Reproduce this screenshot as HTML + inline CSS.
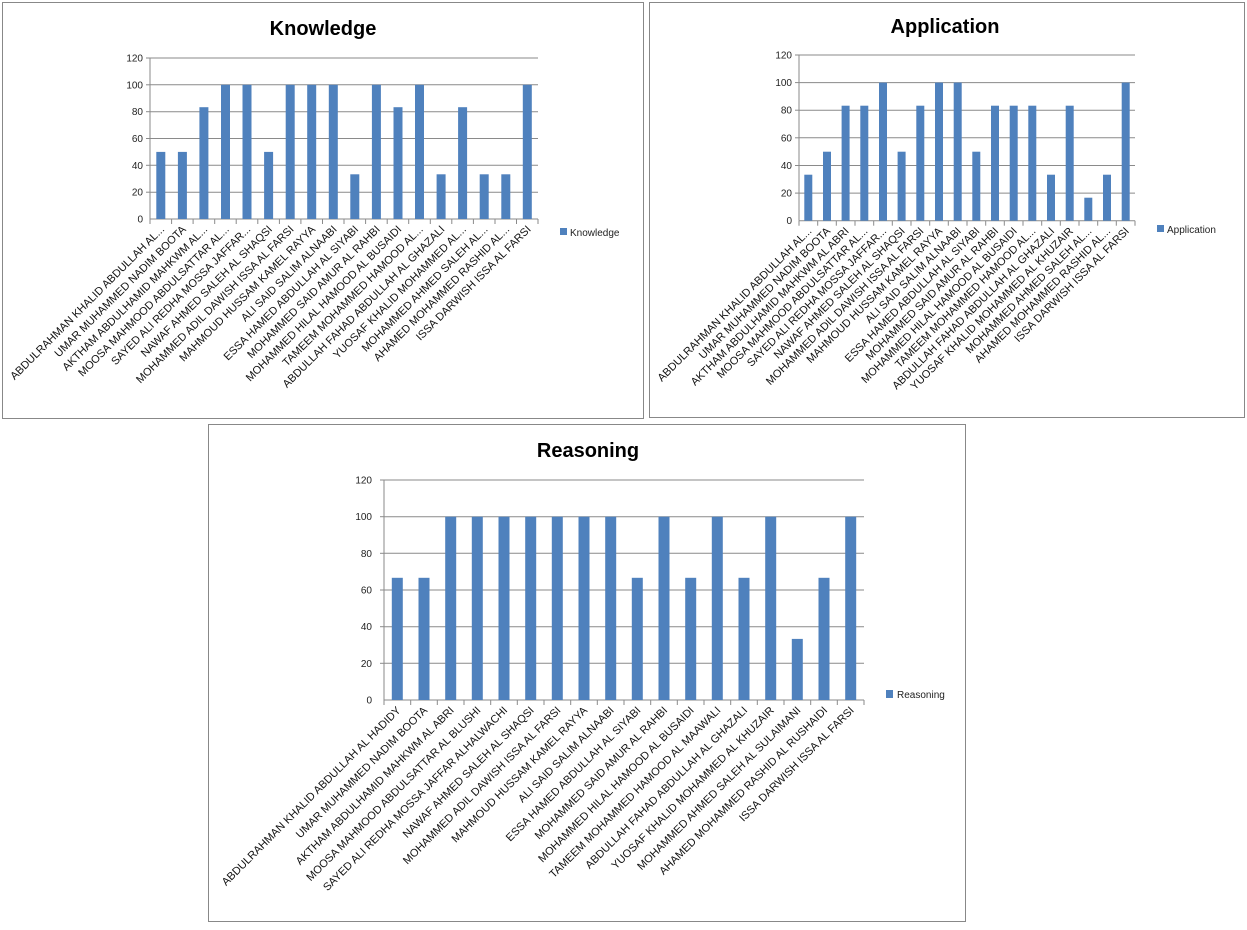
<!DOCTYPE html>
<html><head><meta charset="utf-8"><style>
html,body{margin:0;padding:0;background:#fff;}
svg{display:block;font-family:"Liberation Sans",sans-serif;}
.t{font-size:10px;fill:#222;}
.lb text{font-size:11px;fill:#111;text-anchor:end;}
.yl{font-size:10px;fill:#222;text-anchor:end;}
.ttl{font-size:20px;font-weight:bold;text-anchor:middle;fill:#000;}
.g{stroke:#8a8a8a;stroke-width:1;}
rect.b{fill:#4f81bd;}
</style></head><body>
<svg width="1247" height="930" viewBox="0 0 1247 930">
<rect x="0" y="0" width="1247" height="930" fill="#fff"/>
<rect x="2.5" y="2.5" width="641" height="416" fill="none" stroke="#888"/>
<rect x="649.5" y="2.5" width="595" height="415" fill="none" stroke="#888"/>
<rect x="208.5" y="424.5" width="757" height="497" fill="none" stroke="#888"/>

<text class="ttl" x="323" y="35">Knowledge</text>
<g transform="translate(150,219)">
<g class="g">
<line x1="0" y1="-161" x2="388" y2="-161"/><line x1="0" y1="-134.2" x2="388" y2="-134.2"/><line x1="0" y1="-107.3" x2="388" y2="-107.3"/><line x1="0" y1="-80.5" x2="388" y2="-80.5"/><line x1="0" y1="-53.7" x2="388" y2="-53.7"/><line x1="0" y1="-26.8" x2="388" y2="-26.8"/><line x1="0" y1="0" x2="388" y2="0"/>
<line x1="0" y1="-161" x2="0" y2="0"/>
<line x1="-4" y1="-161" x2="0" y2="-161"/><line x1="-4" y1="-134.2" x2="0" y2="-134.2"/><line x1="-4" y1="-107.3" x2="0" y2="-107.3"/><line x1="-4" y1="-80.5" x2="0" y2="-80.5"/><line x1="-4" y1="-53.7" x2="0" y2="-53.7"/><line x1="-4" y1="-26.8" x2="0" y2="-26.8"/>
<line x1="0" y1="0" x2="0" y2="5"/><line x1="21.6" y1="0" x2="21.6" y2="5"/><line x1="43.1" y1="0" x2="43.1" y2="5"/><line x1="64.7" y1="0" x2="64.7" y2="5"/><line x1="86.2" y1="0" x2="86.2" y2="5"/><line x1="107.8" y1="0" x2="107.8" y2="5"/><line x1="129.4" y1="0" x2="129.4" y2="5"/><line x1="150.9" y1="0" x2="150.9" y2="5"/><line x1="172.5" y1="0" x2="172.5" y2="5"/><line x1="194" y1="0" x2="194" y2="5"/><line x1="215.6" y1="0" x2="215.6" y2="5"/><line x1="237.2" y1="0" x2="237.2" y2="5"/><line x1="258.7" y1="0" x2="258.7" y2="5"/><line x1="280.3" y1="0" x2="280.3" y2="5"/><line x1="301.8" y1="0" x2="301.8" y2="5"/><line x1="323.4" y1="0" x2="323.4" y2="5"/><line x1="345" y1="0" x2="345" y2="5"/><line x1="366.5" y1="0" x2="366.5" y2="5"/><line x1="388" y1="0" x2="388" y2="5"/>
</g>
<text class="yl" x="-7" y="-157.5">120</text><text class="yl" x="-7" y="-130.7">100</text><text class="yl" x="-7" y="-103.8">80</text><text class="yl" x="-7" y="-77">60</text><text class="yl" x="-7" y="-50.2">40</text><text class="yl" x="-7" y="-23.3">20</text><text class="yl" x="-7" y="3.5">0</text>
<rect class="b" x="6.3" y="-67.1" width="9" height="67.1"/>
<rect class="b" x="27.9" y="-67.1" width="9" height="67.1"/>
<rect class="b" x="49.4" y="-111.8" width="9" height="111.8"/>
<rect class="b" x="71" y="-134.2" width="9" height="134.2"/>
<rect class="b" x="92.5" y="-134.2" width="9" height="134.2"/>
<rect class="b" x="114.1" y="-67.1" width="9" height="67.1"/>
<rect class="b" x="135.7" y="-134.2" width="9" height="134.2"/>
<rect class="b" x="157.2" y="-134.2" width="9" height="134.2"/>
<rect class="b" x="178.8" y="-134.2" width="9" height="134.2"/>
<rect class="b" x="200.3" y="-44.7" width="9" height="44.7"/>
<rect class="b" x="221.9" y="-134.2" width="9" height="134.2"/>
<rect class="b" x="243.5" y="-111.8" width="9" height="111.8"/>
<rect class="b" x="265" y="-134.2" width="9" height="134.2"/>
<rect class="b" x="286.6" y="-44.7" width="9" height="44.7"/>
<rect class="b" x="308.1" y="-111.8" width="9" height="111.8"/>
<rect class="b" x="329.7" y="-44.7" width="9" height="44.7"/>
<rect class="b" x="351.3" y="-44.7" width="9" height="44.7"/>
<rect class="b" x="372.8" y="-134.2" width="9" height="134.2"/>
<g class="lb">
<text transform="translate(15,11) rotate(-45)">ABDULRAHMAN KHALID ABDULLAH AL...</text>
<text transform="translate(36.6,11) rotate(-45)">UMAR MUHAMMED  NADIM  BOOTA</text>
<text transform="translate(58.1,11) rotate(-45)">AKTHAM ABDULHAMID MAHKWM AL...</text>
<text transform="translate(79.7,11) rotate(-45)">MOOSA MAHMOOD ABDULSATTAR AL...</text>
<text transform="translate(101.2,11) rotate(-45)">SAYED ALI REDHA MOSSA JAFFAR...</text>
<text transform="translate(122.8,11) rotate(-45)">NAWAF AHMED SALEH AL SHAQSI</text>
<text transform="translate(144.4,11) rotate(-45)">MOHAMMED ADIL DAWISH ISSA AL FARSI</text>
<text transform="translate(165.9,11) rotate(-45)">MAHMOUD HUSSAM  KAMEL RAYYA</text>
<text transform="translate(187.5,11) rotate(-45)">ALI SAID SALIM ALNAABI</text>
<text transform="translate(209,11) rotate(-45)">ESSA HAMED ABDULLAH AL SIYABI</text>
<text transform="translate(230.6,11) rotate(-45)">MOHAMMED SAID AMUR AL RAHBI</text>
<text transform="translate(252.2,11) rotate(-45)">MOHAMMED HILAL HAMOOD AL BUSAIDI</text>
<text transform="translate(273.7,11) rotate(-45)">TAMEEM MOHAMMED  HAMOOD AL...</text>
<text transform="translate(295.3,11) rotate(-45)">ABDULLAH FAHAD ABDULLAH AL GHAZALI</text>
<text transform="translate(316.8,11) rotate(-45)">YUOSAF KHALID MOHAMMED  AL...</text>
<text transform="translate(338.4,11) rotate(-45)">MOHAMMED AHMED SALEH AL...</text>
<text transform="translate(360,11) rotate(-45)">AHAMED MOHAMMED  RASHID AL...</text>
<text transform="translate(381.5,11) rotate(-45)">ISSA DARWISH ISSA AL FARSI</text>
</g>
</g>
<rect class="b" x="560" y="228" width="7" height="7"/>
<text class="t" x="570" y="236">Knowledge</text>

<text class="ttl" x="945" y="33">Application</text>
<g transform="translate(799,220.7)">
<g class="g">
<line x1="0" y1="-165.7" x2="336" y2="-165.7"/><line x1="0" y1="-138.1" x2="336" y2="-138.1"/><line x1="0" y1="-110.5" x2="336" y2="-110.5"/><line x1="0" y1="-82.9" x2="336" y2="-82.9"/><line x1="0" y1="-55.2" x2="336" y2="-55.2"/><line x1="0" y1="-27.6" x2="336" y2="-27.6"/><line x1="0" y1="0" x2="336" y2="0"/>
<line x1="0" y1="-165.7" x2="0" y2="0"/>
<line x1="-4" y1="-165.7" x2="0" y2="-165.7"/><line x1="-4" y1="-138.1" x2="0" y2="-138.1"/><line x1="-4" y1="-110.5" x2="0" y2="-110.5"/><line x1="-4" y1="-82.9" x2="0" y2="-82.9"/><line x1="-4" y1="-55.2" x2="0" y2="-55.2"/><line x1="-4" y1="-27.6" x2="0" y2="-27.6"/>
<line x1="0" y1="0" x2="0" y2="5"/><line x1="18.7" y1="0" x2="18.7" y2="5"/><line x1="37.3" y1="0" x2="37.3" y2="5"/><line x1="56" y1="0" x2="56" y2="5"/><line x1="74.7" y1="0" x2="74.7" y2="5"/><line x1="93.3" y1="0" x2="93.3" y2="5"/><line x1="112" y1="0" x2="112" y2="5"/><line x1="130.7" y1="0" x2="130.7" y2="5"/><line x1="149.3" y1="0" x2="149.3" y2="5"/><line x1="168" y1="0" x2="168" y2="5"/><line x1="186.7" y1="0" x2="186.7" y2="5"/><line x1="205.3" y1="0" x2="205.3" y2="5"/><line x1="224" y1="0" x2="224" y2="5"/><line x1="242.7" y1="0" x2="242.7" y2="5"/><line x1="261.3" y1="0" x2="261.3" y2="5"/><line x1="280" y1="0" x2="280" y2="5"/><line x1="298.7" y1="0" x2="298.7" y2="5"/><line x1="317.3" y1="0" x2="317.3" y2="5"/><line x1="336" y1="0" x2="336" y2="5"/>
</g>
<text class="yl" x="-7" y="-162.2">120</text><text class="yl" x="-7" y="-134.6">100</text><text class="yl" x="-7" y="-107">80</text><text class="yl" x="-7" y="-79.4">60</text><text class="yl" x="-7" y="-51.7">40</text><text class="yl" x="-7" y="-24.1">20</text><text class="yl" x="-7" y="3.5">0</text>
<rect class="b" x="5.3" y="-46" width="8" height="46"/>
<rect class="b" x="24" y="-69" width="8" height="69"/>
<rect class="b" x="42.6" y="-115" width="8" height="115"/>
<rect class="b" x="61.3" y="-115" width="8" height="115"/>
<rect class="b" x="80" y="-138.1" width="8" height="138.1"/>
<rect class="b" x="98.6" y="-69" width="8" height="69"/>
<rect class="b" x="117.3" y="-115" width="8" height="115"/>
<rect class="b" x="136" y="-138.1" width="8" height="138.1"/>
<rect class="b" x="154.7" y="-138.1" width="8" height="138.1"/>
<rect class="b" x="173.3" y="-69" width="8" height="69"/>
<rect class="b" x="192" y="-115" width="8" height="115"/>
<rect class="b" x="210.7" y="-115" width="8" height="115"/>
<rect class="b" x="229.3" y="-115" width="8" height="115"/>
<rect class="b" x="248" y="-46" width="8" height="46"/>
<rect class="b" x="266.7" y="-115" width="8" height="115"/>
<rect class="b" x="285.3" y="-23" width="8" height="23"/>
<rect class="b" x="304" y="-46" width="8" height="46"/>
<rect class="b" x="322.7" y="-138.1" width="8" height="138.1"/>
<g class="lb">
<text transform="translate(13.3,11) rotate(-45)">ABDULRAHMAN KHALID ABDULLAH AL...</text>
<text transform="translate(32,11) rotate(-45)">UMAR MUHAMMED  NADIM  BOOTA</text>
<text transform="translate(50.6,11) rotate(-45)">AKTHAM ABDULHAMID MAHKWM AL ABRI</text>
<text transform="translate(69.3,11) rotate(-45)">MOOSA MAHMOOD ABDULSATTAR AL...</text>
<text transform="translate(88,11) rotate(-45)">SAYED ALI REDHA MOSSA JAFFAR...</text>
<text transform="translate(106.6,11) rotate(-45)">NAWAF AHMED SALEH AL SHAQSI</text>
<text transform="translate(125.3,11) rotate(-45)">MOHAMMED ADIL DAWISH ISSA AL FARSI</text>
<text transform="translate(144,11) rotate(-45)">MAHMOUD HUSSAM  KAMEL RAYYA</text>
<text transform="translate(162.7,11) rotate(-45)">ALI SAID SALIM ALNAABI</text>
<text transform="translate(181.3,11) rotate(-45)">ESSA HAMED ABDULLAH AL SIYABI</text>
<text transform="translate(200,11) rotate(-45)">MOHAMMED SAID AMUR AL RAHBI</text>
<text transform="translate(218.7,11) rotate(-45)">MOHAMMED HILAL HAMOOD AL BUSAIDI</text>
<text transform="translate(237.3,11) rotate(-45)">TAMEEM MOHAMMED  HAMOOD AL...</text>
<text transform="translate(256,11) rotate(-45)">ABDULLAH FAHAD ABDULLAH AL GHAZALI</text>
<text transform="translate(274.7,11) rotate(-45)">YUOSAF KHALID MOHAMMED  AL KHUZAIR</text>
<text transform="translate(293.3,11) rotate(-45)">MOHAMMED AHMED SALEH AL...</text>
<text transform="translate(312,11) rotate(-45)">AHAMED MOHAMMED  RASHID AL...</text>
<text transform="translate(330.7,11) rotate(-45)">ISSA DARWISH ISSA AL FARSI</text>
</g>
</g>
<rect class="b" x="1157" y="225" width="7" height="7"/>
<text class="t" x="1167" y="233">Application</text>

<text class="ttl" x="588" y="457">Reasoning</text>
<g transform="translate(384,700)">
<g class="g">
<line x1="0" y1="-220" x2="480" y2="-220"/><line x1="0" y1="-183.3" x2="480" y2="-183.3"/><line x1="0" y1="-146.7" x2="480" y2="-146.7"/><line x1="0" y1="-110" x2="480" y2="-110"/><line x1="0" y1="-73.3" x2="480" y2="-73.3"/><line x1="0" y1="-36.7" x2="480" y2="-36.7"/><line x1="0" y1="0" x2="480" y2="0"/>
<line x1="0" y1="-220" x2="0" y2="0"/>
<line x1="-4" y1="-220" x2="0" y2="-220"/><line x1="-4" y1="-183.3" x2="0" y2="-183.3"/><line x1="-4" y1="-146.7" x2="0" y2="-146.7"/><line x1="-4" y1="-110" x2="0" y2="-110"/><line x1="-4" y1="-73.3" x2="0" y2="-73.3"/><line x1="-4" y1="-36.7" x2="0" y2="-36.7"/>
<line x1="0" y1="0" x2="0" y2="5"/><line x1="26.7" y1="0" x2="26.7" y2="5"/><line x1="53.3" y1="0" x2="53.3" y2="5"/><line x1="80" y1="0" x2="80" y2="5"/><line x1="106.7" y1="0" x2="106.7" y2="5"/><line x1="133.3" y1="0" x2="133.3" y2="5"/><line x1="160" y1="0" x2="160" y2="5"/><line x1="186.7" y1="0" x2="186.7" y2="5"/><line x1="213.3" y1="0" x2="213.3" y2="5"/><line x1="240" y1="0" x2="240" y2="5"/><line x1="266.7" y1="0" x2="266.7" y2="5"/><line x1="293.3" y1="0" x2="293.3" y2="5"/><line x1="320" y1="0" x2="320" y2="5"/><line x1="346.7" y1="0" x2="346.7" y2="5"/><line x1="373.3" y1="0" x2="373.3" y2="5"/><line x1="400" y1="0" x2="400" y2="5"/><line x1="426.7" y1="0" x2="426.7" y2="5"/><line x1="453.3" y1="0" x2="453.3" y2="5"/><line x1="480" y1="0" x2="480" y2="5"/>
</g>
<text class="yl" x="-12" y="-216.5">120</text><text class="yl" x="-12" y="-179.8">100</text><text class="yl" x="-12" y="-143.2">80</text><text class="yl" x="-12" y="-106.5">60</text><text class="yl" x="-12" y="-69.8">40</text><text class="yl" x="-12" y="-33.2">20</text><text class="yl" x="-12" y="3.5">0</text>
<rect class="b" x="7.8" y="-122.2" width="11" height="122.2"/>
<rect class="b" x="34.5" y="-122.2" width="11" height="122.2"/>
<rect class="b" x="61.2" y="-183.3" width="11" height="183.3"/>
<rect class="b" x="87.8" y="-183.3" width="11" height="183.3"/>
<rect class="b" x="114.5" y="-183.3" width="11" height="183.3"/>
<rect class="b" x="141.2" y="-183.3" width="11" height="183.3"/>
<rect class="b" x="167.8" y="-183.3" width="11" height="183.3"/>
<rect class="b" x="194.5" y="-183.3" width="11" height="183.3"/>
<rect class="b" x="221.2" y="-183.3" width="11" height="183.3"/>
<rect class="b" x="247.8" y="-122.2" width="11" height="122.2"/>
<rect class="b" x="274.5" y="-183.3" width="11" height="183.3"/>
<rect class="b" x="301.2" y="-122.2" width="11" height="122.2"/>
<rect class="b" x="327.8" y="-183.3" width="11" height="183.3"/>
<rect class="b" x="354.5" y="-122.2" width="11" height="122.2"/>
<rect class="b" x="381.2" y="-183.3" width="11" height="183.3"/>
<rect class="b" x="407.8" y="-61.1" width="11" height="61.1"/>
<rect class="b" x="434.5" y="-122.2" width="11" height="122.2"/>
<rect class="b" x="461.2" y="-183.3" width="11" height="183.3"/>
<g class="lb">
<text transform="translate(17.3,11) rotate(-45)">ABDULRAHMAN KHALID ABDULLAH AL HADIDY</text>
<text transform="translate(44,11) rotate(-45)">UMAR MUHAMMED  NADIM  BOOTA</text>
<text transform="translate(70.6,11) rotate(-45)">AKTHAM ABDULHAMID MAHKWM AL ABRI</text>
<text transform="translate(97.3,11) rotate(-45)">MOOSA MAHMOOD ABDULSATTAR AL BLUSHI</text>
<text transform="translate(124,11) rotate(-45)">SAYED ALI REDHA MOSSA JAFFAR ALHALWACHI</text>
<text transform="translate(150.6,11) rotate(-45)">NAWAF AHMED SALEH AL SHAQSI</text>
<text transform="translate(177.3,11) rotate(-45)">MOHAMMED ADIL DAWISH ISSA AL FARSI</text>
<text transform="translate(204,11) rotate(-45)">MAHMOUD HUSSAM  KAMEL RAYYA</text>
<text transform="translate(230.6,11) rotate(-45)">ALI SAID SALIM ALNAABI</text>
<text transform="translate(257.3,11) rotate(-45)">ESSA HAMED ABDULLAH AL SIYABI</text>
<text transform="translate(284,11) rotate(-45)">MOHAMMED SAID AMUR AL RAHBI</text>
<text transform="translate(310.6,11) rotate(-45)">MOHAMMED HILAL HAMOOD AL BUSAIDI</text>
<text transform="translate(337.3,11) rotate(-45)">TAMEEM MOHAMMED  HAMOOD AL MAAWALI</text>
<text transform="translate(364,11) rotate(-45)">ABDULLAH FAHAD ABDULLAH AL GHAZALI</text>
<text transform="translate(390.6,11) rotate(-45)">YUOSAF KHALID MOHAMMED  AL KHUZAIR</text>
<text transform="translate(417.3,11) rotate(-45)">MOHAMMED AHMED SALEH AL SULAIMANI</text>
<text transform="translate(444,11) rotate(-45)">AHAMED MOHAMMED  RASHID AL RUSHAIDI</text>
<text transform="translate(470.6,11) rotate(-45)">ISSA DARWISH ISSA AL FARSI</text>
</g>
</g>
<rect class="b" x="886" y="690" width="7" height="8"/>
<text class="t" x="897" y="698">Reasoning</text>
</svg>
</body></html>
